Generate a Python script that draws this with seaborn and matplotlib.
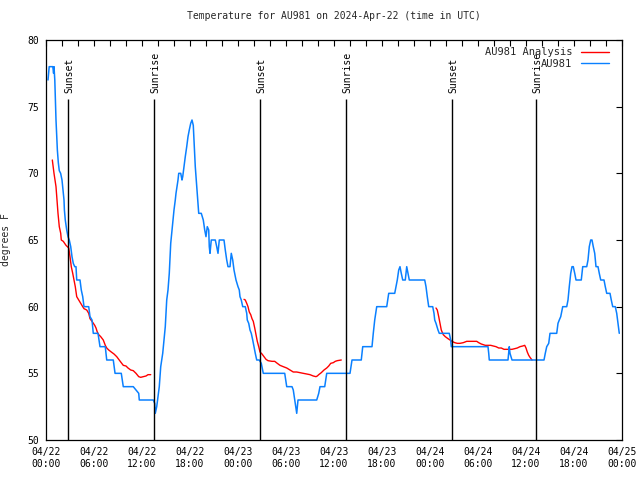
import numpy as np
import pandas as pd
import matplotlib
matplotlib.use("Agg")
import matplotlib.pyplot as plt
from matplotlib.lines import Line2D
import seaborn as sns

# ---------------- data (hours since 04/22 00:00 UTC) ----------------
obs_hours = [0.25, 0.4, 0.85, 0.95, 1.0, 1.1, 1.25, 1.42, 1.54, 1.66, 1.83, 2.0, 2.16, 2.25, 2.3, 2.41,
             2.59, 2.75, 2.91, 3.09, 3.25, 3.41, 3.59, 3.75, 3.84, 4.25, 4.41, 4.59, 4.75, 5.34, 5.5, 5.75,
             5.91, 6.5, 6.75, 7.41, 7.59, 8.41, 8.63, 9.41, 9.66, 10.91, 11.59, 11.66, 13.41, 13.59, 13.66,
             13.84, 14.0, 14.16, 14.34, 14.59, 14.75, 14.91, 15.09, 15.25, 15.41, 15.59, 15.84, 16.0, 16.16,
             16.25, 16.5, 16.59, 16.84, 17.0, 17.09, 17.25, 17.41, 17.59, 17.75, 17.91, 18.09, 18.25, 18.41,
             18.5, 18.66, 18.84, 18.95, 19.09, 19.41, 19.66, 19.84, 20.0, 20.16, 20.34, 20.41, 20.5, 20.66,
             21.16, 21.34, 21.5, 21.66, 22.25, 22.41, 22.59, 22.75, 23.0, 23.16, 23.34, 23.5, 23.75, 24.0,
             24.16, 24.25, 24.41, 24.59, 24.91, 25.09, 25.16, 25.34, 25.5, 25.66, 25.84, 26.0, 26.16, 26.34,
             26.66, 26.91, 27.16, 29.84, 30.09, 30.75, 30.91, 31.16, 31.34, 31.5, 31.66, 33.84, 34.09, 34.25,
             34.84, 35.09, 38.0, 38.25, 39.41, 39.59, 40.75, 40.91, 41.09, 41.34, 42.59, 42.84, 43.59, 43.75,
             43.91, 44.09, 44.25, 44.41, 44.59, 44.91, 45.09, 45.25, 45.41, 47.34, 47.5, 47.66, 47.84, 48.34,
             48.5, 48.59, 48.75, 49.0, 49.16, 50.41, 50.59, 50.66, 55.25, 55.34, 55.41, 57.75, 57.91, 58.0,
             58.25, 62.25, 62.41, 62.59, 62.84, 63.0, 63.84, 64.0, 64.16, 64.34, 64.59, 65.09, 65.25, 65.41,
             65.59, 65.75, 65.91, 66.09, 66.25, 66.91, 67.09, 67.59, 67.75, 67.91, 68.09, 68.25, 68.41, 68.59,
             68.75, 69.0, 69.16, 69.34, 69.75, 69.91, 70.09, 70.5, 70.66, 70.84, 71.16, 71.34, 71.5, 71.66]
obs_temps = [77, 78, 78, 77.5, 78, 77, 74, 71.75, 70.8, 70.2, 70, 69.5, 68.5, 68, 67.25, 66.5,
             65.75, 65.25, 65, 64.5, 63.75, 63.25, 63, 63, 62, 62, 61.25, 60.75, 60, 60, 59.25, 59,
             58, 58, 57, 57, 56, 56, 55, 55, 54, 54, 53.5, 53, 53, 52.75, 52,
             52.5, 53.25, 54, 55.5, 56.5, 57.5, 58.5, 60.5, 61.25, 62.5, 64.75, 66.25, 67.25, 68,
             68.5, 69.5, 70, 70, 69.5, 69.75, 70.5, 71.25, 72, 72.75, 73.25, 73.75, 74, 73.6,
             72.5, 70.5, 69, 68, 67, 67, 66.5, 65.75, 65.25, 66, 65.75, 64.5, 64, 65,
             65, 64.5, 64, 65, 65, 64.25, 63.5, 63, 63, 64, 63.5, 62.75, 62, 61.5,
             61.25, 60.75, 60.5, 60, 60, 59.5, 59, 58.75, 58.25, 58, 57.5, 57, 56.5, 56,
             56, 55.75, 55, 55, 54, 54, 53.75, 52.75, 52, 53, 53, 53, 53.5, 54,
             54, 55, 55, 56, 56, 57, 57, 58, 59, 60, 60, 61, 61, 61.5,
             62, 62.75, 63, 62.5, 62, 62, 63, 62.5, 62, 62, 61.5, 60.75, 60, 60,
             59.5, 59, 58.75, 58.25, 58, 58, 57.5, 57, 57, 56.5, 56, 56, 57, 56.5,
             56, 56, 56.5, 57, 57.25, 58, 58, 58.75, 59, 59.25, 60, 60, 60.5, 61.5,
             62.5, 63, 63, 62.5, 62, 62, 63, 63, 63.5, 64.5, 65, 65, 64.5, 64,
             63, 63, 62.5, 62, 62, 61.5, 61, 61, 60.5, 60, 60, 59.5, 58.75, 58]

ana1_hours = [0.79, 1.0, 1.25, 1.5, 1.66, 1.84, 1.91, 2.16, 2.5, 2.84, 3.0, 3.16, 3.34, 3.5, 3.66, 3.84,
              4.09, 4.34, 4.59, 4.75, 5.09, 5.34, 5.5, 5.75, 6.09, 6.25, 6.41, 6.59, 6.84, 7.16, 7.41,
              7.59, 7.84, 8.16, 8.5, 8.84, 9.09, 9.34, 9.66, 10.0, 10.25, 10.59, 10.91, 11.25, 11.59,
              11.84, 12.16, 12.5, 12.75, 13.09]
ana1_temps = [71, 70, 69, 67, 66, 65.5, 65, 64.9, 64.6, 64.4, 63.75, 63, 62.5, 62, 61.5, 60.75,
              60.5, 60.25, 60, 59.85, 59.75, 59.5, 59.1, 58.9, 58.6, 58.4, 58.1, 57.9, 57.75, 57.5, 57.1,
              56.9, 56.75, 56.6, 56.45, 56.25, 56.05, 55.85, 55.6, 55.55, 55.4, 55.25, 55.2, 55.0, 54.75,
              54.7, 54.75, 54.8, 54.9, 54.9]
ana2_hours = [24.75, 24.91, 25.09, 25.25, 25.41, 25.59, 25.75, 25.91, 26.09, 26.25, 26.41, 26.59, 26.75,
              27.0, 27.25, 27.5, 27.75, 28.25, 28.59, 28.91, 29.25, 29.66, 30.09, 30.5, 30.91, 31.34,
              31.75, 32.16, 32.59, 33.0, 33.41, 33.75, 33.91, 34.09, 34.41, 34.75, 35.09, 35.34, 35.59,
              35.91, 36.16, 36.41, 36.91]
ana2_temps = [60.55, 60.5, 60.25, 60, 59.6, 59.4, 59.1, 58.9, 58.4, 57.9, 57.4, 57, 56.6,
              56.45, 56.25, 56.05, 55.95, 55.9, 55.9, 55.75, 55.6, 55.5, 55.4, 55.25, 55.1, 55.1,
              55.05, 55.0, 54.95, 54.9, 54.8, 54.75, 54.8, 54.9, 55.05, 55.25, 55.4, 55.55, 55.75,
              55.8, 55.9, 55.95, 56.0]
ana3_hours = [48.75, 48.91, 49.09, 49.25, 49.41, 49.66, 49.91, 50.25, 50.5, 50.75, 51.09, 51.41, 51.75,
              52.16, 52.59, 53.0, 53.84, 54.09, 54.41, 54.91, 55.59, 55.91, 56.25, 56.59, 56.91, 57.25,
              58.25, 58.59, 58.91, 59.25, 59.59, 59.84, 60.0, 60.16, 60.34, 60.5, 60.75]
ana3_temps = [59.9, 59.75, 59.25, 58.75, 58.25, 57.9, 57.75, 57.6, 57.5, 57.4, 57.3, 57.25, 57.25,
              57.3, 57.4, 57.4, 57.4, 57.3, 57.2, 57.1, 57.1, 57.05, 57.0, 56.9, 56.9, 56.8,
              56.8, 56.85, 56.9, 57.0, 57.05, 57.1, 56.9, 56.6, 56.35, 56.2, 56.0]

event_hours = [2.75, 13.5, 26.75, 37.5, 50.75, 61.25]
event_names = ["Sunset", "Sunrise", "Sunset", "Sunrise", "Sunset", "Sunrise"]

tick_hours = [0, 6, 12, 18, 24, 30, 36, 42, 48, 54, 60, 66, 72]
tick_labels = ["04/22\n00:00", "04/22\n06:00", "04/22\n12:00", "04/22\n18:00",
               "04/23\n00:00", "04/23\n06:00", "04/23\n12:00", "04/23\n18:00",
               "04/24\n00:00", "04/24\n06:00", "04/24\n12:00", "04/24\n18:00",
               "04/25\n00:00"]

title = "Temperature for AU981 on 2024-Apr-22 (time in UTC)"
series_names = ["AU981 Analysis", "AU981"]

# ---------------- plotting ----------------
sns.set_style("white")
plt.rcParams["font.family"] = ["DejaVu Sans Mono"]
FS = 7

RED = "#ff0000"
BLUE = "#0a80ff"

fig = plt.figure(figsize=(6.4, 4.8), dpi=100)
ax = fig.add_axes([46 / 640, 1 - 440 / 480, 576 / 640, 400 / 480])

ana_segs = [(ana1_hours, ana1_temps), (ana2_hours, ana2_temps), (ana3_hours, ana3_temps)]
for h, t in ana_segs:
    df = pd.DataFrame({"h": h, "t": t})
    sns.lineplot(data=df, x="h", y="t", ax=ax, color=RED, lw=1.0, legend=False,
                 estimator=None, sort=False)

obs_df = pd.DataFrame({"h": obs_hours, "t": obs_temps})
sns.lineplot(data=obs_df, x="h", y="t", ax=ax, color=BLUE, lw=1.1, legend=False,
             estimator=None, sort=False)

ax.vlines(event_hours, 50, 75.55, color="black", lw=1.0)
for h, name in zip(event_hours, event_names):
    ax.text(h + 0.18, 76.0, name, rotation=90, ha="center", va="bottom",
            fontsize=FS, color="black")

ax.set_xlim(0, 72)
ax.set_ylim(50, 80)
ax.set_xticks(tick_hours)
ax.set_xticklabels(tick_labels)
ax.set_xticks(np.arange(0, 73, 2), minor=True)
ax.set_yticks(np.arange(50, 81, 5))
ax.tick_params(axis="both", which="both", direction="in", length=4, width=0.8,
               top=True, right=True, labelsize=FS, colors="black")
ax.tick_params(axis="x", which="major", pad=5)
ax.tick_params(axis="y", which="major", pad=5)
ax.set_xlabel("")
ax.set_ylabel("degrees F", fontsize=FS, labelpad=12)
ax.set_title(title, fontsize=FS, pad=15)

for sp in ax.spines.values():
    sp.set_color("black")
    sp.set_linewidth(0.9)
    sp.set_visible(True)

handles = [Line2D([], [], color=RED, lw=1.0), Line2D([], [], color=BLUE, lw=1.0)]
ax.legend(handles, series_names, loc="upper right", bbox_to_anchor=(1 - 6 / 576, 1.0),
          frameon=False, markerfirst=False,
          fontsize=FS + 0.5, handlelength=2.7, handletextpad=0.8, labelspacing=0.15,
          borderaxespad=0.3)

fig.savefig("out.png", dpi=100)
